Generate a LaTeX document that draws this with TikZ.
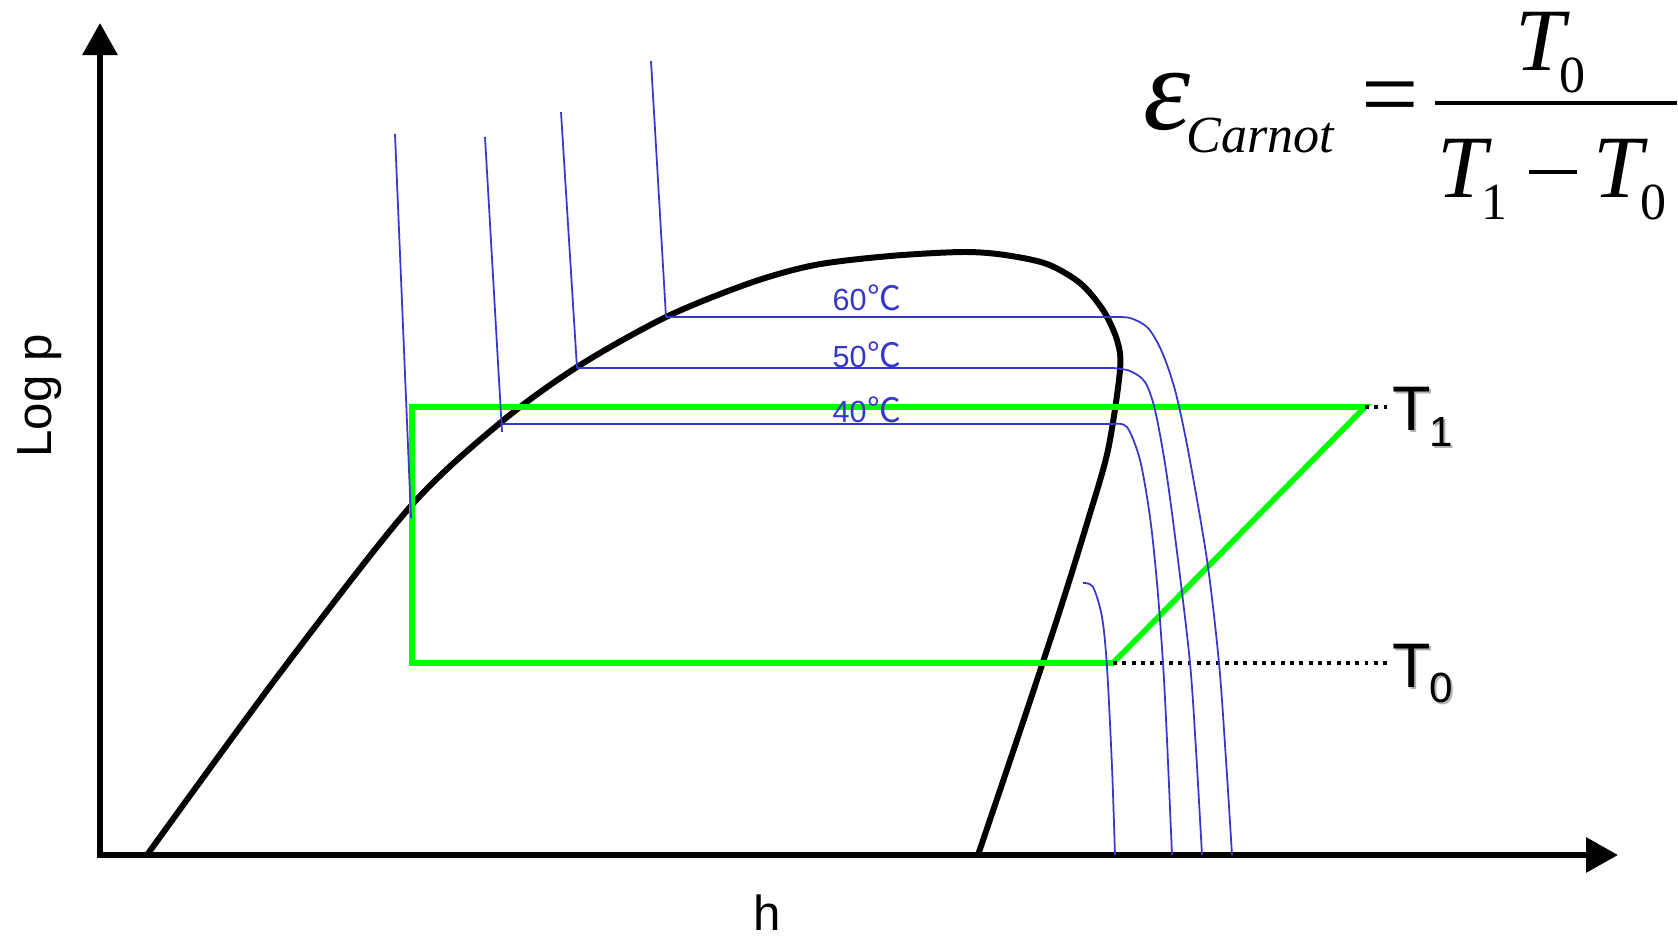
\documentclass[tikz,border=0pt]{standalone}
\usepackage{fontspec}
\usepackage{tikz}
\usetikzlibrary{arrows.meta}
\newfontfamily\labelfont{Liberation Sans}
\newfontfamily\eqfont{Liberation Serif}
\newfontfamily\cjkfont{Noto Sans CJK SC}
\definecolor{isoBlue}{HTML}{3737CD}
\definecolor{cycleGreen}{HTML}{00FF00}
\newcommand{\shadowed}[1]{\makebox[0pt][l]{\hspace{0.6pt}\raisebox{-0.6pt}{\color{black!30}#1}}#1}

\begin{document}
\begin{tikzpicture}[x=0.01cm, y=-0.01cm,
    axis/.style={line width=1.7pt, line cap=rect, -{Triangle[length=9.1pt,width=9.7pt]}},
    dome/.style={line width=1.7pt},
    iso/.style={isoBlue, line width=0.5pt},
    carnot/.style={cycleGreen, line width=1.6pt},
    tlevel/.style={line width=1.1pt, dash pattern=on 1.1pt off 1.55pt},
    axislabel/.style={inner sep=0pt, font={\labelfont\fontsize{14}{16}\selectfont}},
    isolabel/.style={isoBlue, inner sep=0pt, anchor=base west, font={\labelfont\fontsize{8.7}{10}\selectfont}},
    tlabel/.style={inner sep=0pt, anchor=base west, font={\labelfont\fontsize{17.9}{20}\selectfont}},
    eqnode/.style={inner sep=0pt, anchor=base west}]
  \useasboundingbox (0,0) rectangle (1678,936);

  % axes
  \coordinate (O) at (100,855);
  \draw[axis] (O) -- (100,23);
  \draw[axis] (O) -- (1618,855);
  \node[axislabel, rotate=90] (logp) at (40,396) {Log p};
  \node[axislabel, anchor=base] (hlabel) at (767,930) {h};

  % saturation dome
  \draw[dome] plot[smooth] coordinates {(147,855) (280,673) (410,507) (500,423) (577,367)
    (666,317) (750,283) (815,265) (890,256) (963,252) (1005,255) (1047,264) (1080,283)
    (1103,310) (1117,340) (1120,370) (1108,450) (1088,520) (1060,610) (1022,725) (978,855)};

  % Carnot cycle
  \coordinate (A) at (412,407);
  \coordinate (B) at (1365,407);
  \coordinate (C) at (1113,663);
  \coordinate (D) at (412,663);
  \draw[carnot] (A) -- (B) -- (C) -- (D) -- cycle;
  \draw[tlevel] (B) -- (1387,407);
  \draw[tlevel] (C) -- (1387,663);
  \node[tlabel] (tone) at (1392,430) {\shadowed{T\kern-0.6pt\raisebox{-4.8pt}{\fontsize{12}{14}\selectfont 1}}};
  \node[tlabel] (tzero) at (1392,687) {\shadowed{T\kern-0.6pt\raisebox{-4.3pt}{\fontsize{12}{14}\selectfont 0}}};

  % isotherms
  \draw[iso] (395,134) -- (411,518);
  \draw[iso] (485,137) -- (502,432);
  \draw[iso] (561,112) -- (577,368);
  \draw[iso] (651,61) -- (666,317);
  \draw[iso] (666,317) -- plot[smooth] coordinates {(1110,317) (1130,318) (1148,328)
    (1162,352) (1175,390) (1188,450) (1207,560) (1219,663) (1226,760) (1232,855)};
  \draw[iso] (577,368) -- plot[smooth] coordinates {(1113,368) (1130,371) (1145,382)
    (1155,410) (1166,470) (1178,560) (1190,663) (1196,750) (1202,855)};
  \draw[iso] (502,424) -- plot[smooth] coordinates {(1113,424) (1127,427) (1140,460)
    (1150,517) (1157,583) (1163,663) (1167,740) (1172,855)};
  \draw[iso] plot[smooth] coordinates {(1083,583) (1093,587) (1102,617) (1107,667)
    (1112,767) (1115,855)};
  \node[isolabel] (lab60) at (832,310) {60\kern0.3pt{\cjkfont\fontsize{9.6}{10}\selectfont ℃}};
  \node[isolabel] (lab50) at (832,367) {50\kern0.3pt{\cjkfont\fontsize{9.6}{10}\selectfont ℃}};
  \node[isolabel] (lab40) at (832,422) {40\kern0.3pt{\cjkfont\fontsize{9.6}{10}\selectfont ℃}};

  % efficiency
  \node[eqnode, font={\eqfont\itshape\fontsize{34}{36}\selectfont}] (eps) at (1143,129) {ε};
  \node[eqnode, font={\eqfont\itshape\fontsize{14.8}{16}\selectfont}] (carnotsub) at (1186,152) {Carnot};
  \node[eqnode, font={\eqfont\fontsize{29}{32}\selectfont}] (equals) at (1361,128) {=};
  \draw[line width=0.95pt] (1435,103) -- (1677,103);
  \node[eqnode, font={\eqfont\fontsize{25.3}{30}\selectfont}] (numer) at (1515,70)
    {\textit{T}\kern-3.0pt\raisebox{-6.3pt}{\fontsize{14.8}{16}\selectfont 0}};
  \node[eqnode, font={\eqfont\fontsize{25.3}{30}\selectfont}] (denom) at (1437,197)
    {\textit{T}\kern-3.0pt\raisebox{-6.3pt}{\fontsize{14.8}{16}\selectfont 1}\kern6pt\rule[6.6pt]{13.7pt}{1.1pt}\kern4.6pt\textit{T}\kern-2.2pt\raisebox{-6.3pt}{\fontsize{14.8}{16}\selectfont 0}};
\end{tikzpicture}
\end{document}
